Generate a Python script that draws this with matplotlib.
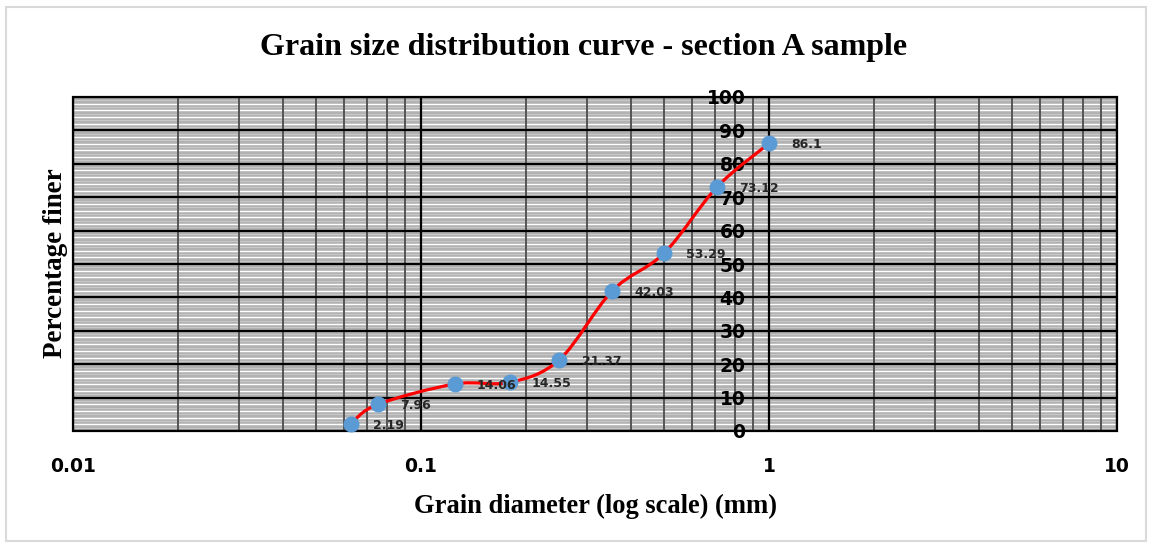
import numpy as np
import matplotlib
matplotlib.use('Agg')
import matplotlib.pyplot as plt
from matplotlib.path import Path
from matplotlib.patches import PathPatch, Rectangle

# sieve data
diameter = [0.063, 0.075, 0.125, 0.18, 0.25, 0.355, 0.5, 0.71, 1.0]
finer = [2.19, 7.96, 14.06, 14.55, 21.37, 42.03, 53.29, 73.12, 86.1]
point_labels = ['2.19', '7.96', '14.06', '14.55', '21.37', '42.03', '53.29', '73.12', '86.1']
x_ticks = [0.01, 0.1, 1, 10]
x_tick_labels = ['0.01', '0.1', '1', '10']
y_ticks = list(range(0, 101, 10))

fig = plt.figure(figsize=(11.53, 5.48), dpi=100)
ax = fig.add_axes([73/1153, 1-431/548, (1117-73)/1153, (431-97)/548])
ax.set_xscale('log')
ax.set_xlim(0.01, 10)
ax.set_ylim(0, 100)
ax.set_facecolor('#b2b2b2')

# dense horizontal minor lines
for v in range(1, 100):
    if v % 10 == 0:
        continue
    if v % 2 == 0:
        ax.axhline(v, color='white', lw=1.0, zorder=0.5)
    else:
        ax.axhline(v, color='#cdcdcd', lw=0.6, zorder=0.5)

ax.set_yticks(y_ticks)
ax.set_xticks(x_ticks)
ax.set_xticklabels(x_tick_labels)
ax.xaxis.set_minor_locator(matplotlib.ticker.LogLocator(base=10, subs=np.arange(2, 10)))
ax.xaxis.set_minor_formatter(matplotlib.ticker.NullFormatter())
ax.grid(True, which='major', axis='y', color='black', lw=1.6, zorder=1)
ax.grid(True, which='major', axis='x', color='black', lw=1.6, zorder=1)
ax.grid(True, which='minor', axis='x', color='#555555', lw=1.4, zorder=0.8)
ax.set_axisbelow(True)

ax.spines['left'].set_position(('data', 1))
for s in ax.spines.values():
    s.set_visible(False)
ax.add_patch(Rectangle((0, 0), 1, 1, transform=ax.transAxes, fill=False,
                       ec='black', lw=1.6, zorder=3, clip_on=False))

ax.tick_params(axis='y', length=0, pad=17, labelsize=13.5)
ax.tick_params(axis='x', which='both', length=0, pad=19, labelsize=13.5)
for lab in ax.get_xticklabels() + ax.get_yticklabels():
    lab.set_fontweight('bold')
    lab.set_fontfamily('DejaVu Sans')

# smoothed line (Catmull-Rom as cubic Bezier in log-x space)
P = np.column_stack([np.log10(diameter), finer])
n = len(P)
verts = [P[0]]
codes = [Path.MOVETO]
for i in range(n - 1):
    prev = P[i - 1] if i > 0 else P[i]
    nxt = P[i + 2] if i + 2 < n else P[i + 1]
    c1 = P[i] + (P[i + 1] - prev) / 6
    c2 = P[i + 1] - (nxt - P[i]) / 6
    verts += [c1, c2, P[i + 1]]
    codes += [Path.CURVE4] * 3
verts = np.array(verts)
verts[:, 0] = 10 ** verts[:, 0]
ax.add_patch(PathPatch(Path(verts, codes), fill=False, ec='red', lw=2.3, zorder=4))

ax.plot(diameter, finer, 'o', color='#5b9bd5', ms=10.5, zorder=5, clip_on=False)
for xv, yv, t in zip(diameter, finer, point_labels):
    ax.annotate(t, (xv, yv), xytext=(16, -1), textcoords='offset points',
                ha='left', va='center', fontsize=9, fontweight='bold', color='#262626', zorder=6)

serif = 'Liberation Serif'
fig.text(584/1153, 1-47/548, 'Grain size distribution curve - section A sample',
         ha='center', va='center', fontsize=23, fontweight='bold', family=serif)
fig.text(596/1153, 1-506/548, 'Grain diameter (log scale) (mm)',
         ha='center', va='center', fontsize=19.1, fontweight='bold', family=serif)
fig.text(55/1153, 1-263/548, 'Percentage finer', rotation=90,
         ha='center', va='center', fontsize=19.5, fontweight='bold', family=serif)

fig.patches.append(Rectangle((6/1153, 7/548), 1140/1153, 534/548, transform=fig.transFigure,
                             fill=False, ec='#d9d9d9', lw=1.5))

fig.savefig('out.png', dpi=100)
